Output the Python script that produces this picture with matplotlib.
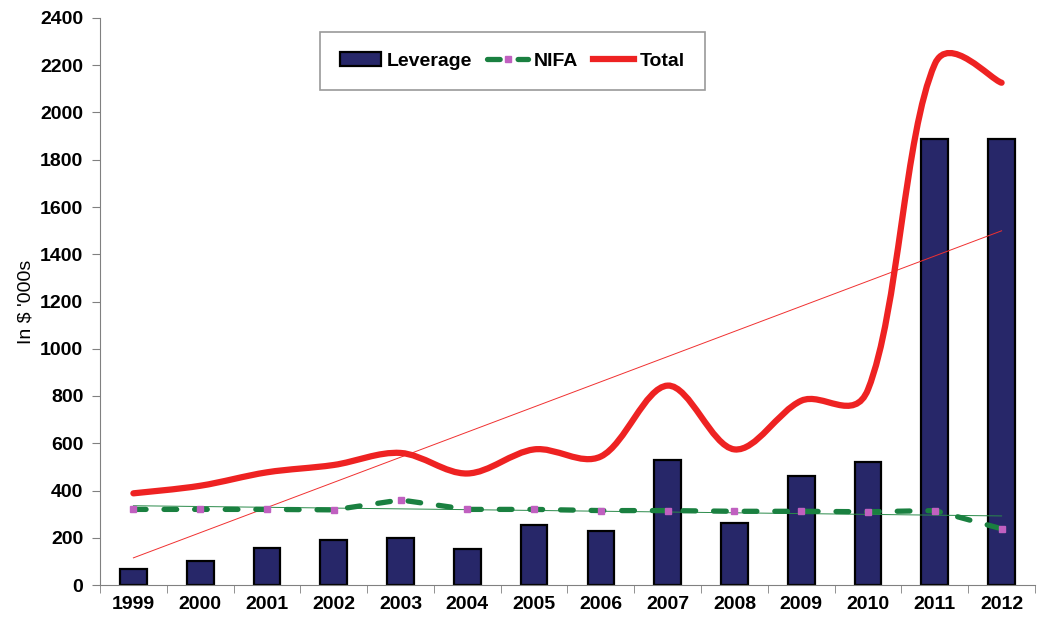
import numpy as np
import matplotlib.pyplot as plt
import matplotlib
from matplotlib.path import Path
from matplotlib.patches import PathPatch

matplotlib.rc('font', family=['Liberation Sans', 'DejaVu Sans'], size=14, weight='bold')

years = ['1999', '2000', '2001', '2002', '2003', '2004', '2005',
         '2006', '2007', '2008', '2009', '2010', '2011', '2012']
leverage = [68, 100, 157, 190, 199, 152, 254, 229, 529, 262, 461, 521, 1888, 1888]
nifa = [320, 320, 320, 318, 360, 320, 320, 315, 315, 312, 312, 310, 315, 238]
total = [388, 420, 477, 508, 559, 472, 574, 544, 844, 574, 780, 828, 2205, 2126]


def smooth_path(ax, x, y, tension=1 / 3., a=0.5):
    # Excel-like smoothed line, control points computed in screen space
    fig.canvas.draw()
    pts = ax.transData.transform(np.column_stack([x, y]).astype(float))
    n = len(pts)
    verts = [pts[0]]
    codes = [Path.MOVETO]
    for i in range(n - 1):
        p0 = pts[i - 1] if i > 0 else pts[i]
        p1 = pts[i]
        p2 = pts[i + 1]
        p3 = pts[i + 2] if i + 2 < n else pts[i + 1]
        d01 = np.hypot(*(p1 - p0)) ** a
        d12 = np.hypot(*(p2 - p1)) ** a
        d23 = np.hypot(*(p3 - p2)) ** a
        if i > 0:
            c1 = p1 + (p2 - p0) * tension * d12 / (d01 + d12)
        else:
            c1 = p1 + (p2 - p1) * tension * 0.5
        if i + 2 < n:
            c2 = p2 - (p3 - p1) * tension * d12 / (d12 + d23)
        else:
            c2 = p2 - (p2 - p1) * tension * 0.5
        verts += [c1, c2, p2]
        codes += [Path.CURVE4] * 3
    verts = ax.transData.inverted().transform(np.array(verts))
    return Path(verts, codes)


ind = np.arange(len(years))
fig = plt.figure(figsize=(10.37, 6.27), dpi=100)
ax = fig.add_axes([100 / 1037, 1 - 585 / 627, 935 / 1037, 567 / 627])

bars = ax.bar(ind, leverage, 0.4, color='#272769', edgecolor='black',
              linewidth=1.6, label='Leverage', zorder=2)

ax.set_xlim(-0.5, len(years) - 0.5)
ax.set_ylim(0, 2400)

# trend lines
k, b = np.polyfit(ind, total, 1)
ax.plot(ind, k * ind + b, color='#f03030', lw=0.7, zorder=3)
k2, b2 = np.polyfit(ind, nifa, 1)
ax.plot(ind, k2 * ind + b2, color='#2a8a4a', lw=0.7, zorder=3)

nifa_line, = ax.plot(ind, nifa, color='#1a8040', lw=3.8, ls=(0, (2.4, 3.4)),
                     dash_capstyle='round', marker='s', markersize=4,
                     markerfacecolor='#c060c0', markeredgecolor='#c060c0',
                     label='NIFA', zorder=4)

tp = PathPatch(smooth_path(ax, ind, total), facecolor='none', edgecolor='#ee2222',
               lw=4.5, capstyle='round', zorder=5)
ax.add_patch(tp)
total_line, = ax.plot([], [], color='#ee2222', lw=4.5, label='Total')

ax.set_yticks(np.arange(0, 2401, 200))
ax.set_xticks(ind)
ax.set_xticklabels(years)
ax.set_xticks(np.arange(-0.5, len(years), 1), minor=True)
ax.tick_params(axis='x', which='major', length=0, pad=8)
ax.tick_params(axis='x', which='minor', length=6, color='#808080')
ax.tick_params(axis='y', length=6, color='#808080', pad=6)
for s in ['top', 'right']:
    ax.spines[s].set_visible(False)
for s in ['left', 'bottom']:
    ax.spines[s].set_color('#808080')
ax.set_ylabel("In $ '000s", fontweight='normal', fontsize=14, labelpad=4)

leg = ax.legend(handles=[bars, nifa_line, total_line], loc='upper left',
                bbox_to_anchor=(220 / 935, 1 - 77 / 567, 385 / 935, 63 / 567),
                mode='expand', ncol=3, frameon=True, fancybox=False,
                handlelength=2.1, handletextpad=0.3, columnspacing=1.2,
                borderaxespad=0, borderpad=1.05, fontsize=14)
leg.get_frame().set_edgecolor('#808080')
leg.get_frame().set_linewidth(1.2)

plt.savefig('out.png', dpi=100)
